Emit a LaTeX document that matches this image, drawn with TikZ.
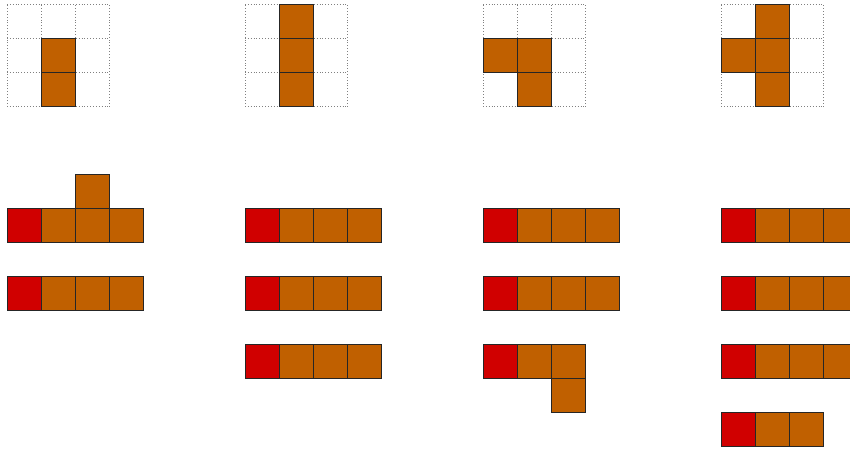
\documentclass[tikz,border=0pt]{standalone}
\usepackage{xcolor}
\usepackage{tikz}

\definecolor{cellbrown}{RGB}{192,96,0}
\definecolor{cellred}{RGB}{208,0,0}

\begin{document}
\begin{tikzpicture}[x=1cm,y=-1cm,
    cell/.style={draw=black!85,thick,fill=cellbrown},
    head/.style={draw=black!85,thick,fill=cellred},
    board/.style={gray,dotted,thin}]
  \useasboundingbox (0,0) rectangle (25,13.235);
  \clip (0,0) rectangle (25,13.235);
  % panel 1
  \begin{scope}[shift={(0.206,0.118)}]
    \draw[board] (0,0) grid (3,3);
    \foreach \c/\r in {1/1,1/2}
      \draw[cell] (\c,\r) rectangle ++(1,1);
    \draw[cell] (2,5) rectangle ++(1,1);
    \foreach \r in {6,8}{
      \draw[head] (0,\r) rectangle ++(1,1);
      \foreach \c in {1,2,3}
        \draw[cell] (\c,\r) rectangle ++(1,1);
    }
  \end{scope}
  % panel 2
  \begin{scope}[shift={(7.206,0.118)}]
    \draw[board] (0,0) grid (3,3);
    \foreach \c/\r in {1/0,1/1,1/2}
      \draw[cell] (\c,\r) rectangle ++(1,1);
    \foreach \r in {6,8,10}{
      \draw[head] (0,\r) rectangle ++(1,1);
      \foreach \c in {1,2,3}
        \draw[cell] (\c,\r) rectangle ++(1,1);
    }
  \end{scope}
  % panel 3
  \begin{scope}[shift={(14.206,0.118)}]
    \draw[board] (0,0) grid (3,3);
    \foreach \c/\r in {0/1,1/1,1/2}
      \draw[cell] (\c,\r) rectangle ++(1,1);
    \foreach \r in {6,8}{
      \draw[head] (0,\r) rectangle ++(1,1);
      \foreach \c in {1,2,3}
        \draw[cell] (\c,\r) rectangle ++(1,1);
    }
    \draw[head] (0,10) rectangle ++(1,1);
    \foreach \c/\r in {1/10,2/10,2/11}
      \draw[cell] (\c,\r) rectangle ++(1,1);
  \end{scope}
  % panel 4
  \begin{scope}[shift={(21.206,0.118)}]
    \draw[board] (0,0) grid (3,3);
    \foreach \c/\r in {1/0,0/1,1/1,1/2}
      \draw[cell] (\c,\r) rectangle ++(1,1);
    \foreach \r in {6,8,10}{
      \draw[head] (0,\r) rectangle ++(1,1);
      \foreach \c in {1,2,3}
        \draw[cell] (\c,\r) rectangle ++(1,1);
    }
    \draw[head] (0,12) rectangle ++(1,1);
    \foreach \c in {1,2}
      \draw[cell] (\c,12) rectangle ++(1,1);
  \end{scope}
\end{tikzpicture}
\end{document}
